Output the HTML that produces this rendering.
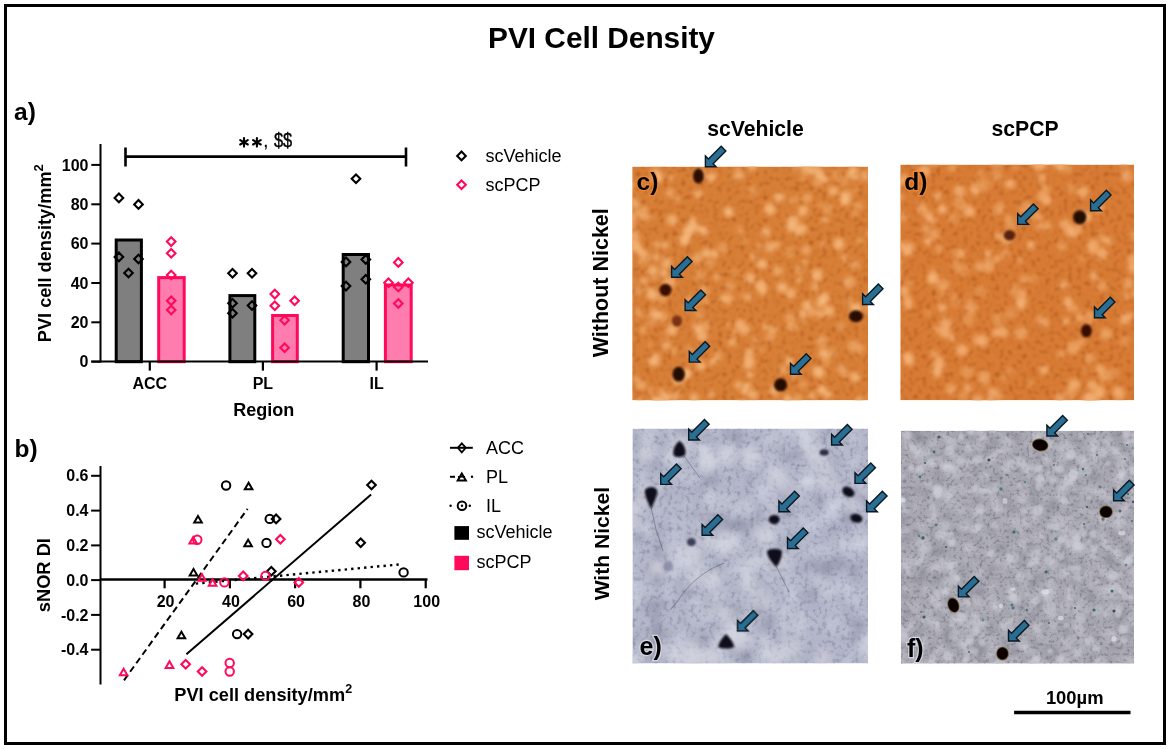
<!DOCTYPE html>
<html><head><meta charset="utf-8"><style>
html,body{margin:0;padding:0;background:#fff;font-family:"Liberation Sans",sans-serif;}
svg text{font-family:"Liberation Sans",sans-serif;}
svg{display:block;will-change:transform;}
</style></head><body>
<svg width="1170" height="749" viewBox="0 0 1170 749" font-family="Liberation Sans, sans-serif">
<rect width="1170" height="749" fill="#fff"/>
<rect x="5.5" y="5.5" width="1159" height="738" fill="none" stroke="#000" stroke-width="3"/>
<text x="601.5" y="47.5" font-size="29.8" font-weight="bold" text-anchor="middle">PVI Cell Density</text>
<text x="14" y="120.3" font-size="24.5" font-weight="bold">a)</text>
<g stroke="#000" stroke-width="2" fill="none">
<line x1="100.5" y1="144" x2="100.5" y2="362.5"/>
<line x1="91.3" y1="361.7" x2="100.5" y2="361.7"/>
<line x1="91.3" y1="322.3" x2="100.5" y2="322.3"/>
<line x1="91.3" y1="283.0" x2="100.5" y2="283.0"/>
<line x1="91.3" y1="243.6" x2="100.5" y2="243.6"/>
<line x1="91.3" y1="204.3" x2="100.5" y2="204.3"/>
<line x1="91.3" y1="164.9" x2="100.5" y2="164.9"/>
</g>
<g font-size="16" font-weight="bold" text-anchor="end">
<text x="88.5" y="367.3">0</text>
<text x="88.5" y="327.9">20</text>
<text x="88.5" y="288.6">40</text>
<text x="88.5" y="249.2">60</text>
<text x="88.5" y="209.9">80</text>
<text x="88.5" y="170.5">100</text>
</g>
<rect x="116.2" y="240.0" width="25.2" height="121.7" fill="#7f7f7f" stroke="#000" stroke-width="3"/>
<rect x="158.7" y="277.6" width="25.5" height="84.1" fill="#ff7cae" stroke="#ff0a5a" stroke-width="3"/>
<rect x="229.9" y="295.6" width="24.9" height="66.1" fill="#7f7f7f" stroke="#000" stroke-width="3"/>
<rect x="272.6" y="315.5" width="24.7" height="46.2" fill="#ff7cae" stroke="#ff0a5a" stroke-width="3"/>
<rect x="343.2" y="254.5" width="25.3" height="107.2" fill="#7f7f7f" stroke="#000" stroke-width="3"/>
<rect x="385.4" y="285.0" width="25.8" height="76.7" fill="#ff7cae" stroke="#ff0a5a" stroke-width="3"/>
<g stroke="#000" fill="none">
<line x1="91.3" y1="361.6" x2="428" y2="361.6" stroke-width="2"/>
<line x1="149.8" y1="361.7" x2="149.8" y2="370.6" stroke-width="2.2"/>
<line x1="262.9" y1="361.7" x2="262.9" y2="370.6" stroke-width="2.2"/>
<line x1="376.6" y1="361.7" x2="376.6" y2="370.6" stroke-width="2.2"/>
</g>
<g font-size="16" font-weight="bold" text-anchor="middle">
<text x="149.8" y="388.8">ACC</text>
<text x="262.9" y="388.8">PL</text>
<text x="376.6" y="388.8">IL</text>
</g>
<text x="263.8" y="415.7" font-size="18" font-weight="bold" text-anchor="middle">Region</text>
<text transform="translate(50.7 253.2) rotate(-90)" font-size="18.2" font-weight="bold" text-anchor="middle">PVI cell density/mm<tspan font-size="13" dy="-8.2">2</tspan></text>
<path d="M118.9 193.6L123.2 197.9L118.9 202.2L114.6 197.9Z" fill="none" stroke="#000" stroke-width="2.1"/>
<path d="M138.5 200.1L142.8 204.4L138.5 208.7L134.2 204.4Z" fill="none" stroke="#000" stroke-width="2.1"/>
<path d="M118.9 252.6L123.2 256.9L118.9 261.2L114.6 256.9Z" fill="none" stroke="#000" stroke-width="2.1"/>
<path d="M138.5 254.7L142.8 259.0L138.5 263.3L134.2 259.0Z" fill="none" stroke="#000" stroke-width="2.1"/>
<path d="M128.5 268.7L132.8 273.0L128.5 277.3L124.2 273.0Z" fill="none" stroke="#000" stroke-width="2.1"/>
<path d="M232.5 268.9L236.8 273.2L232.5 277.5L228.2 273.2Z" fill="none" stroke="#000" stroke-width="2.1"/>
<path d="M252.0 268.9L256.3 273.2L252.0 277.5L247.7 273.2Z" fill="none" stroke="#000" stroke-width="2.1"/>
<path d="M232.5 299.0L236.8 303.3L232.5 307.6L228.2 303.3Z" fill="none" stroke="#000" stroke-width="2.1"/>
<path d="M252.0 301.2L256.3 305.5L252.0 309.8L247.7 305.5Z" fill="none" stroke="#000" stroke-width="2.1"/>
<path d="M232.5 308.9L236.8 313.2L232.5 317.5L228.2 313.2Z" fill="none" stroke="#000" stroke-width="2.1"/>
<path d="M356.0 174.4L360.3 178.7L356.0 183.0L351.7 178.7Z" fill="none" stroke="#000" stroke-width="2.1"/>
<path d="M346.0 257.6L350.3 261.9L346.0 266.2L341.7 261.9Z" fill="none" stroke="#000" stroke-width="2.1"/>
<path d="M365.8 255.2L370.1 259.5L365.8 263.8L361.5 259.5Z" fill="none" stroke="#000" stroke-width="2.1"/>
<path d="M365.8 275.0L370.1 279.3L365.8 283.6L361.5 279.3Z" fill="none" stroke="#000" stroke-width="2.1"/>
<path d="M346.0 281.8L350.3 286.1L346.0 290.4L341.7 286.1Z" fill="none" stroke="#000" stroke-width="2.1"/>
<path d="M171.2 237.3L175.5 241.6L171.2 245.9L166.9 241.6Z" fill="none" stroke="#ff0a5a" stroke-width="2.1"/>
<path d="M171.2 249.0L175.5 253.3L171.2 257.6L166.9 253.3Z" fill="none" stroke="#ff0a5a" stroke-width="2.1"/>
<path d="M171.2 270.7L175.5 275.0L171.2 279.3L166.9 275.0Z" fill="none" stroke="#ff0a5a" stroke-width="2.1"/>
<path d="M171.2 296.4L175.5 300.7L171.2 305.0L166.9 300.7Z" fill="none" stroke="#ff0a5a" stroke-width="2.1"/>
<path d="M171.2 305.7L175.5 310.0L171.2 314.3L166.9 310.0Z" fill="none" stroke="#ff0a5a" stroke-width="2.1"/>
<path d="M274.8 289.8L279.1 294.1L274.8 298.4L270.5 294.1Z" fill="none" stroke="#ff0a5a" stroke-width="2.1"/>
<path d="M274.8 301.5L279.1 305.8L274.8 310.1L270.5 305.8Z" fill="none" stroke="#ff0a5a" stroke-width="2.1"/>
<path d="M294.6 296.5L298.9 300.8L294.6 305.1L290.3 300.8Z" fill="none" stroke="#ff0a5a" stroke-width="2.1"/>
<path d="M284.6 315.9L288.9 320.2L284.6 324.5L280.3 320.2Z" fill="none" stroke="#ff0a5a" stroke-width="2.1"/>
<path d="M284.6 343.5L288.9 347.8L284.6 352.1L280.3 347.8Z" fill="none" stroke="#ff0a5a" stroke-width="2.1"/>
<path d="M398.3 258.1L402.6 262.4L398.3 266.7L394.0 262.4Z" fill="none" stroke="#ff0a5a" stroke-width="2.1"/>
<path d="M388.5 278.4L392.8 282.7L388.5 287.0L384.2 282.7Z" fill="none" stroke="#ff0a5a" stroke-width="2.1"/>
<path d="M408.4 278.4L412.7 282.7L408.4 287.0L404.1 282.7Z" fill="none" stroke="#ff0a5a" stroke-width="2.1"/>
<path d="M398.3 282.7L402.6 287.0L398.3 291.3L394.0 287.0Z" fill="none" stroke="#ff0a5a" stroke-width="2.1"/>
<path d="M398.3 299.2L402.6 303.5L398.3 307.8L394.0 303.5Z" fill="none" stroke="#ff0a5a" stroke-width="2.1"/>
<path d="M125.5 147.5V166.5M125.5 156.6H406M406 147.5V166.5" stroke="#000" stroke-width="2.6" fill="none"/>
<g stroke="#000" stroke-width="2.1" stroke-linecap="round"><line x1="244.0" y1="138.0" x2="244.0" y2="146.60000000000002"/><line x1="240.2" y1="140.10000000000002" x2="247.8" y2="144.5"/><line x1="240.2" y1="144.5" x2="247.8" y2="140.10000000000002"/></g>
<g stroke="#000" stroke-width="2.1" stroke-linecap="round"><line x1="256.9" y1="138.0" x2="256.9" y2="146.60000000000002"/><line x1="253.09999999999997" y1="140.10000000000002" x2="260.7" y2="144.5"/><line x1="253.09999999999997" y1="144.5" x2="260.7" y2="140.10000000000002"/></g>
<text x="262.9" y="146.8" font-size="20">,</text>
<text transform="translate(273.9 147) scale(0.815 1)" font-size="20.2" stroke="#000" stroke-width="0.4">$$</text>
<path d="M461.5 151.6L465.8 155.9L461.5 160.2L457.2 155.9Z" fill="none" stroke="#000" stroke-width="2.1"/>
<path d="M461.5 180.4L465.8 184.7L461.5 189.0L457.2 184.7Z" fill="none" stroke="#ff0a5a" stroke-width="2.1"/>
<text x="485.5" y="162" font-size="18">scVehicle</text>
<text x="485.5" y="190.6" font-size="18">scPCP</text>
<text x="14.5" y="456.7" font-size="24.5" font-weight="bold">b)</text>
<g stroke="#000" stroke-width="2" fill="none">
<line x1="100.5" y1="466" x2="100.5" y2="684.5"/>
<line x1="91.1" y1="475.8" x2="100.5" y2="475.8"/>
<line x1="91.1" y1="510.6" x2="100.5" y2="510.6"/>
<line x1="91.1" y1="545.4" x2="100.5" y2="545.4"/>
<line x1="91.1" y1="580.1" x2="100.5" y2="580.1"/>
<line x1="91.1" y1="614.9" x2="100.5" y2="614.9"/>
<line x1="91.1" y1="649.7" x2="100.5" y2="649.7"/>
</g>
<g font-size="16" font-weight="bold" text-anchor="end">
<text x="88.5" y="481.4">0.6</text>
<text x="88.5" y="516.2">0.4</text>
<text x="88.5" y="551.0">0.2</text>
<text x="88.5" y="585.7">0.0</text>
<text x="88.5" y="620.5">-0.2</text>
<text x="88.5" y="655.3">-0.4</text>
</g>
<g stroke="#000" fill="none">
<line x1="100.5" y1="579.5" x2="427.5" y2="579.5" stroke-width="2.5"/>
<line x1="164.6" y1="579.5" x2="164.6" y2="588.3" stroke-width="2.2"/>
<line x1="229.9" y1="579.5" x2="229.9" y2="588.3" stroke-width="2.2"/>
<line x1="295.1" y1="579.5" x2="295.1" y2="588.3" stroke-width="2.2"/>
<line x1="360.4" y1="579.5" x2="360.4" y2="588.3" stroke-width="2.2"/>
<line x1="425.7" y1="579.5" x2="425.7" y2="588.3" stroke-width="2.2"/>
</g>
<g font-size="16" font-weight="bold" text-anchor="middle">
<text x="165.6" y="607">20</text>
<text x="230.9" y="607">40</text>
<text x="296.1" y="607">60</text>
<text x="361.4" y="607">80</text>
<text x="426.7" y="607">100</text>
</g>
<text x="174.3" y="701" font-size="18.2" font-weight="bold">PVI cell density/mm<tspan font-size="12.5" dy="-8.2">2</tspan></text>
<text transform="translate(49.8 575.15) rotate(-90)" font-size="18.3" font-weight="bold" text-anchor="middle">sNOR DI</text>
<line x1="124" y1="680.3" x2="247.6" y2="508.8" stroke="#000" stroke-width="2" stroke-dasharray="6.5 4"/>
<line x1="186.4" y1="654.2" x2="371.1" y2="494.6" stroke="#000" stroke-width="2"/>
<line x1="195.8" y1="583.6" x2="398.7" y2="564.5" stroke="#000" stroke-width="2.4" stroke-dasharray="2.4 4.1"/>
<circle cx="226.1" cy="485.5" r="4.2" fill="none" stroke="#000" stroke-width="2"/>
<path d="M248.6 482.7L252.4 489.3L244.8 489.3Z" fill="none" stroke="#000" stroke-width="2"/>
<path d="M371.5 480.7L375.8 485.0L371.5 489.3L367.2 485.0Z" fill="none" stroke="#000" stroke-width="2.1"/>
<path d="M198.0 515.9L201.8 522.5L194.2 522.5Z" fill="none" stroke="#000" stroke-width="2"/>
<circle cx="269.7" cy="518.9" r="4.2" fill="none" stroke="#000" stroke-width="2"/>
<path d="M276.1 514.6L280.4 518.9L276.1 523.2L271.8 518.9Z" fill="none" stroke="#000" stroke-width="2.1"/>
<path d="M248.1 539.7L251.9 546.3L244.3 546.3Z" fill="none" stroke="#000" stroke-width="2"/>
<circle cx="266.5" cy="542.9" r="4.2" fill="none" stroke="#000" stroke-width="2"/>
<path d="M360.7 538.4L365.0 542.7L360.7 547.0L356.4 542.7Z" fill="none" stroke="#000" stroke-width="2.1"/>
<path d="M193.5 568.9L197.3 575.5L189.7 575.5Z" fill="none" stroke="#000" stroke-width="2"/>
<path d="M271.3 566.9L275.6 571.2L271.3 575.5L267.0 571.2Z" fill="none" stroke="#000" stroke-width="2.1"/>
<circle cx="403.6" cy="572.4" r="4.2" fill="none" stroke="#000" stroke-width="2"/>
<path d="M181.4 631.7L185.2 638.3L177.6 638.3Z" fill="none" stroke="#000" stroke-width="2"/>
<circle cx="237.1" cy="634.1" r="4.2" fill="none" stroke="#000" stroke-width="2"/>
<path d="M248.1 629.8L252.4 634.1L248.1 638.4L243.8 634.1Z" fill="none" stroke="#000" stroke-width="2.1"/>
<path d="M193.2 536.9L197.0 543.5L189.4 543.5Z" fill="none" stroke="#ff0a5a" stroke-width="2"/>
<circle cx="197.3" cy="539.7" r="4.2" fill="none" stroke="#ff0a5a" stroke-width="2"/>
<path d="M280.4 534.9L284.7 539.2L280.4 543.5L276.1 539.2Z" fill="none" stroke="#ff0a5a" stroke-width="2.1"/>
<path d="M202.0 574.2L205.8 580.8L198.2 580.8Z" fill="none" stroke="#ff0a5a" stroke-width="2"/>
<path d="M212.6 579.2L216.4 585.8L208.8 585.8Z" fill="none" stroke="#ff0a5a" stroke-width="2"/>
<circle cx="224.4" cy="582.4" r="4.2" fill="none" stroke="#ff0a5a" stroke-width="2"/>
<path d="M243.2 571.6L247.5 575.9L243.2 580.2L238.9 575.9Z" fill="none" stroke="#ff0a5a" stroke-width="2.1"/>
<circle cx="265.5" cy="575.9" r="4.2" fill="none" stroke="#ff0a5a" stroke-width="2"/>
<path d="M298.8 578.1L303.1 582.4L298.8 586.7L294.5 582.4Z" fill="none" stroke="#ff0a5a" stroke-width="2.1"/>
<path d="M123.6 668.7L127.4 675.3L119.8 675.3Z" fill="none" stroke="#ff0a5a" stroke-width="2"/>
<path d="M169.5 661.3L173.3 667.9L165.7 667.9Z" fill="none" stroke="#ff0a5a" stroke-width="2"/>
<path d="M185.7 659.9L190.0 664.2L185.7 668.5L181.4 664.2Z" fill="none" stroke="#ff0a5a" stroke-width="2.1"/>
<path d="M202.1 667.2L206.4 671.5L202.1 675.8L197.8 671.5Z" fill="none" stroke="#ff0a5a" stroke-width="2.1"/>
<circle cx="229.7" cy="663.0" r="4.2" fill="none" stroke="#ff0a5a" stroke-width="2"/>
<circle cx="229.7" cy="671.5" r="4.2" fill="none" stroke="#ff0a5a" stroke-width="2"/>
<line x1="450" y1="447.8" x2="472.8" y2="447.8" stroke="#000" stroke-width="2"/>
<path d="M461.8 443.3L465.8 447.8L461.8 452.3L457.8 447.8Z" fill="none" stroke="#000" stroke-width="1.8"/>
<line x1="450" y1="476.8" x2="455" y2="476.8" stroke="#000" stroke-width="2"/>
<line x1="458" y1="476.8" x2="465" y2="476.8" stroke="#000" stroke-width="1.6"/>
<path d="M461.8 473.4L465.9 480.6L457.7 480.6Z" fill="none" stroke="#000" stroke-width="2"/>
<circle cx="472" cy="476.8" r="1.2" fill="#000"/>
<circle cx="450.6" cy="505.7" r="1.2" fill="#000"/><circle cx="469.8" cy="505.7" r="1.2" fill="#000"/>
<circle cx="462.0" cy="505.7" r="4.3" fill="none" stroke="#000" stroke-width="2"/>
<circle cx="462" cy="505.7" r="1.2" fill="#000"/>
<g font-size="18">
<text x="486" y="454.4">ACC</text><text x="486" y="482.7">PL</text><text x="486" y="512.1">IL</text>
<text x="476.5" y="538.2">scVehicle</text><text x="476.5" y="568.2">scPCP</text>
</g>
<rect x="454.4" y="526.1" width="14.6" height="13.7" fill="#000"/>
<rect x="454.4" y="555.8" width="14.6" height="14.4" fill="#ff0a5a"/>
<text x="755.5" y="135.7" font-size="21.2" font-weight="bold" text-anchor="middle">scVehicle</text>
<text x="1025.1" y="135.6" font-size="21.2" font-weight="bold" text-anchor="middle">scPCP</text>
<text transform="translate(608.4 282.75) rotate(-90)" font-size="21.5" font-weight="bold" text-anchor="middle">Without Nickel</text>
<text transform="translate(608.9 543.6) rotate(-90)" font-size="21.1" font-weight="bold" text-anchor="middle">With Nickel</text>
<defs>
<filter id="gc" x="0" y="0" width="100%" height="100%" color-interpolation-filters="sRGB"><feTurbulence type="fractalNoise" baseFrequency="0.22" numOctaves="3" seed="1"/><feColorMatrix type="matrix" values="0 0 0 0 0.62  0 0 0 0 0.27  0 0 0 0 0.06  -1.7 0 0 0 0.85"/><feGaussianBlur stdDeviation="0.8"/></filter>
<filter id="gd" x="0" y="0" width="100%" height="100%" color-interpolation-filters="sRGB"><feTurbulence type="fractalNoise" baseFrequency="0.22" numOctaves="3" seed="9"/><feColorMatrix type="matrix" values="0 0 0 0 0.62  0 0 0 0 0.27  0 0 0 0 0.06  -1.7 0 0 0 0.85"/><feGaussianBlur stdDeviation="0.8"/></filter>
<filter id="ge" x="0" y="0" width="100%" height="100%" color-interpolation-filters="sRGB"><feTurbulence type="fractalNoise" baseFrequency="0.22" numOctaves="3" seed="3"/><feColorMatrix type="matrix" values="0 0 0 0 0.3  0 0 0 0 0.31  0 0 0 0 0.45  -1.0 0 0 0 0.5"/><feGaussianBlur stdDeviation="0.6"/></filter>
<filter id="ge2" x="0" y="0" width="100%" height="100%" color-interpolation-filters="sRGB"><feTurbulence type="fractalNoise" baseFrequency="0.045" numOctaves="3" seed="13"/><feColorMatrix type="matrix" values="0 0 0 0 0.52  0 0 0 0 0.53  0 0 0 0 0.62  -2.0 0 0 0 0.95"/><feGaussianBlur stdDeviation="2.0"/></filter>
<filter id="ge3" x="0" y="0" width="100%" height="100%" color-interpolation-filters="sRGB"><feTurbulence type="fractalNoise" baseFrequency="0.045" numOctaves="3" seed="13"/><feColorMatrix type="matrix" values="0 0 0 0 0.86  0 0 0 0 0.87  0 0 0 0 0.92  2.2 0 0 0 -1.15"/><feGaussianBlur stdDeviation="2.0"/></filter>
<filter id="gf" x="0" y="0" width="100%" height="100%" color-interpolation-filters="sRGB"><feTurbulence type="fractalNoise" baseFrequency="0.3" numOctaves="3" seed="5"/><feColorMatrix type="matrix" values="0 0 0 0 0.3  0 0 0 0 0.3  0 0 0 0 0.36  -1.4 0 0 0 0.68"/><feGaussianBlur stdDeviation="0.5"/></filter>
<filter id="gf2" x="0" y="0" width="100%" height="100%" color-interpolation-filters="sRGB"><feTurbulence type="fractalNoise" baseFrequency="0.07" numOctaves="3" seed="21"/><feColorMatrix type="matrix" values="0 0 0 0 0.5  0 0 0 0 0.5  0 0 0 0 0.56  -1.8 0 0 0 0.85"/><feGaussianBlur stdDeviation="1.2"/></filter>
<filter id="gf3" x="0" y="0" width="100%" height="100%" color-interpolation-filters="sRGB"><feTurbulence type="fractalNoise" baseFrequency="0.07" numOctaves="3" seed="21"/><feColorMatrix type="matrix" values="0 0 0 0 0.86  0 0 0 0 0.86  0 0 0 0 0.9  2.0 0 0 0 -1.05"/><feGaussianBlur stdDeviation="1.2"/></filter>
<filter id="b1" x="-50%" y="-50%" width="200%" height="200%"><feGaussianBlur stdDeviation="1.2"/></filter>
<filter id="b2" x="-50%" y="-50%" width="200%" height="200%"><feGaussianBlur stdDeviation="2"/></filter>
<filter id="b4" x="-50%" y="-50%" width="200%" height="200%"><feGaussianBlur stdDeviation="4"/></filter>
<filter id="bc" x="-50%" y="-50%" width="200%" height="200%"><feGaussianBlur stdDeviation="1.0"/></filter>
<filter id="bs" x="-50%" y="-50%" width="200%" height="200%"><feGaussianBlur stdDeviation="0.6"/></filter>
<clipPath id="cc"><rect x="632.4" y="166.8" width="235.6" height="233.3"/></clipPath>
<clipPath id="cd"><rect x="900.5" y="164.8" width="233.5" height="235.3"/></clipPath>
<clipPath id="ce"><rect x="632.7" y="428.8" width="235.3" height="234.4"/></clipPath>
<clipPath id="cf"><rect x="901" y="430.9" width="233.0" height="232.5"/></clipPath>
</defs>
<rect x="632.4" y="166.8" width="235.6" height="233.3" fill="#d98038"/>
<g clip-path="url(#cc)">
<rect x="632.4" y="166.8" width="235.6" height="233.3" fill="#000" filter="url(#gc)"/>
<g fill="#f7bb7f" filter="url(#b2)">
<circle cx="770" cy="209" r="5.9" opacity="0.81"/>
<circle cx="742" cy="323" r="3.3" opacity="0.46"/>
<circle cx="698" cy="330" r="3.2" opacity="0.84"/>
<circle cx="645" cy="209" r="2.8" opacity="0.73"/>
<circle cx="717" cy="277" r="3.6" opacity="0.67"/>
<circle cx="727" cy="212" r="4.0" opacity="0.50"/>
<circle cx="655" cy="362" r="4.9" opacity="0.68"/>
<circle cx="844" cy="258" r="3.8" opacity="0.56"/>
<circle cx="727" cy="325" r="2.5" opacity="0.58"/>
<circle cx="759" cy="246" r="2.6" opacity="0.70"/>
<circle cx="630" cy="299" r="3.0" opacity="0.37"/>
<circle cx="672" cy="178" r="3.0" opacity="0.69"/>
<circle cx="806" cy="250" r="4.8" opacity="0.59"/>
<circle cx="750" cy="375" r="3.6" opacity="0.78"/>
<circle cx="797" cy="328" r="2.5" opacity="0.39"/>
<circle cx="635" cy="246" r="5.8" opacity="0.79"/>
<circle cx="833" cy="191" r="5.0" opacity="0.74"/>
<circle cx="826" cy="355" r="3.0" opacity="0.44"/>
<circle cx="822" cy="341" r="5.6" opacity="0.57"/>
<circle cx="846" cy="196" r="5.8" opacity="0.79"/>
<circle cx="710" cy="178" r="4.4" opacity="0.69"/>
<circle cx="713" cy="176" r="3.5" opacity="0.76"/>
<circle cx="650" cy="390" r="3.4" opacity="0.45"/>
<circle cx="655" cy="400" r="5.7" opacity="0.51"/>
<circle cx="651" cy="321" r="5.6" opacity="0.36"/>
<circle cx="783" cy="370" r="4.1" opacity="0.63"/>
<circle cx="825" cy="220" r="3.5" opacity="0.68"/>
<circle cx="763" cy="292" r="3.7" opacity="0.82"/>
<circle cx="698" cy="327" r="5.6" opacity="0.55"/>
<circle cx="641" cy="215" r="2.7" opacity="0.42"/>
<circle cx="657" cy="245" r="3.8" opacity="0.57"/>
<circle cx="791" cy="326" r="4.9" opacity="0.53"/>
<circle cx="790" cy="296" r="2.9" opacity="0.62"/>
<circle cx="706" cy="326" r="5.1" opacity="0.47"/>
<circle cx="734" cy="272" r="3.5" opacity="0.37"/>
<circle cx="640" cy="403" r="5.1" opacity="0.57"/>
<circle cx="791" cy="227" r="5.0" opacity="0.83"/>
<circle cx="817" cy="275" r="5.9" opacity="0.81"/>
<circle cx="642" cy="262" r="4.1" opacity="0.49"/>
<circle cx="779" cy="197" r="5.1" opacity="0.78"/>
<circle cx="643" cy="330" r="3.4" opacity="0.67"/>
<circle cx="797" cy="399" r="5.3" opacity="0.52"/>
<circle cx="807" cy="198" r="5.0" opacity="0.56"/>
<circle cx="693" cy="220" r="3.3" opacity="0.75"/>
<circle cx="651" cy="218" r="3.2" opacity="0.43"/>
<circle cx="807" cy="305" r="4.8" opacity="0.80"/>
<circle cx="738" cy="171" r="3.2" opacity="0.61"/>
<circle cx="803" cy="385" r="4.3" opacity="0.46"/>
<circle cx="773" cy="389" r="3.7" opacity="0.82"/>
<circle cx="849" cy="302" r="4.2" opacity="0.41"/>
<circle cx="655" cy="172" r="4.6" opacity="0.71"/>
<circle cx="871" cy="308" r="6.0" opacity="0.55"/>
<circle cx="660" cy="176" r="3.5" opacity="0.62"/>
<circle cx="870" cy="234" r="3.3" opacity="0.71"/>
<circle cx="723" cy="298" r="3.0" opacity="0.78"/>
<circle cx="853" cy="346" r="5.8" opacity="0.52"/>
<circle cx="635" cy="236" r="5.6" opacity="0.58"/>
<circle cx="677" cy="199" r="3.1" opacity="0.57"/>
<circle cx="855" cy="377" r="5.2" opacity="0.73"/>
<circle cx="674" cy="351" r="3.3" opacity="0.61"/>
<circle cx="636" cy="379" r="2.9" opacity="0.65"/>
<circle cx="790" cy="318" r="4.9" opacity="0.53"/>
<circle cx="822" cy="390" r="4.7" opacity="0.84"/>
<circle cx="836" cy="175" r="4.9" opacity="0.40"/>
<circle cx="790" cy="252" r="5.5" opacity="0.37"/>
<circle cx="860" cy="172" r="2.7" opacity="0.35"/>
<circle cx="658" cy="402" r="5.4" opacity="0.81"/>
<circle cx="673" cy="329" r="5.3" opacity="0.71"/>
<circle cx="694" cy="398" r="5.0" opacity="0.69"/>
<circle cx="697" cy="258" r="5.2" opacity="0.61"/>
<circle cx="747" cy="386" r="4.0" opacity="0.78"/>
<circle cx="639" cy="291" r="5.0" opacity="0.36"/>
<circle cx="798" cy="231" r="4.7" opacity="0.66"/>
<circle cx="661" cy="391" r="3.3" opacity="0.42"/>
<circle cx="736" cy="177" r="2.9" opacity="0.73"/>
<circle cx="651" cy="293" r="5.6" opacity="0.58"/>
<circle cx="827" cy="364" r="3.1" opacity="0.39"/>
<circle cx="820" cy="373" r="5.5" opacity="0.71"/>
<circle cx="753" cy="395" r="5.1" opacity="0.73"/>
<circle cx="851" cy="175" r="5.1" opacity="0.64"/>
<circle cx="631" cy="224" r="5.0" opacity="0.61"/>
<circle cx="766" cy="232" r="4.5" opacity="0.79"/>
<circle cx="868" cy="296" r="5.1" opacity="0.39"/>
<circle cx="662" cy="298" r="5.4" opacity="0.41"/>
<circle cx="664" cy="283" r="3.6" opacity="0.42"/>
<circle cx="666" cy="265" r="5.3" opacity="0.44"/>
<circle cx="825" cy="180" r="3.4" opacity="0.68"/>
<circle cx="629" cy="240" r="3.0" opacity="0.47"/>
<circle cx="845" cy="201" r="5.0" opacity="0.81"/>
<circle cx="688" cy="372" r="3.6" opacity="0.74"/>
<circle cx="770" cy="247" r="5.6" opacity="0.70"/>
<circle cx="706" cy="301" r="3.5" opacity="0.49"/>
<circle cx="858" cy="399" r="3.1" opacity="0.81"/>
<circle cx="803" cy="165" r="2.9" opacity="0.57"/>
<circle cx="845" cy="374" r="3.4" opacity="0.57"/>
<circle cx="855" cy="213" r="2.9" opacity="0.56"/>
<circle cx="795" cy="374" r="5.6" opacity="0.36"/>
<circle cx="670" cy="193" r="4.6" opacity="0.55"/>
<circle cx="854" cy="312" r="4.7" opacity="0.69"/>
<circle cx="678" cy="380" r="5.5" opacity="0.76"/>
<circle cx="820" cy="204" r="2.7" opacity="0.53"/>
<circle cx="803" cy="211" r="5.5" opacity="0.78"/>
<circle cx="799" cy="280" r="3.0" opacity="0.75"/>
<circle cx="670" cy="282" r="5.2" opacity="0.67"/>
<circle cx="685" cy="376" r="3.6" opacity="0.56"/>
<circle cx="735" cy="332" r="2.6" opacity="0.67"/>
<circle cx="747" cy="357" r="3.8" opacity="0.64"/>
<circle cx="865" cy="176" r="5.3" opacity="0.58"/>
<circle cx="701" cy="229" r="3.3" opacity="0.77"/>
<circle cx="677" cy="396" r="4.3" opacity="0.49"/>
<circle cx="820" cy="303" r="5.6" opacity="0.42"/>
<circle cx="797" cy="169" r="3.1" opacity="0.56"/>
<circle cx="704" cy="231" r="4.5" opacity="0.72"/>
<circle cx="730" cy="286" r="5.2" opacity="0.46"/>
<circle cx="872" cy="168" r="3.8" opacity="0.76"/>
<circle cx="685" cy="242" r="3.1" opacity="0.84"/>
<circle cx="843" cy="182" r="4.4" opacity="0.43"/>
<circle cx="632" cy="216" r="5.0" opacity="0.61"/>
<circle cx="698" cy="303" r="2.8" opacity="0.52"/>
<circle cx="652" cy="362" r="3.8" opacity="0.71"/>
<circle cx="710" cy="263" r="4.5" opacity="0.48"/>
<circle cx="762" cy="350" r="2.8" opacity="0.45"/>
<circle cx="632" cy="281" r="2.9" opacity="0.61"/>
<circle cx="667" cy="290" r="3.5" opacity="0.72"/>
<circle cx="828" cy="395" r="4.1" opacity="0.79"/>
<circle cx="839" cy="244" r="5.9" opacity="0.83"/>
<circle cx="666" cy="345" r="4.9" opacity="0.66"/>
<circle cx="802" cy="229" r="5.4" opacity="0.71"/>
<circle cx="672" cy="397" r="5.1" opacity="0.38"/>
<circle cx="635" cy="203" r="4.8" opacity="0.71"/>
<circle cx="856" cy="377" r="3.2" opacity="0.45"/>
<circle cx="648" cy="257" r="4.0" opacity="0.54"/>
<circle cx="829" cy="311" r="5.3" opacity="0.78"/>
<circle cx="815" cy="287" r="3.9" opacity="0.62"/>
<circle cx="740" cy="325" r="5.5" opacity="0.69"/>
<circle cx="690" cy="299" r="4.1" opacity="0.41"/>
<circle cx="653" cy="271" r="5.8" opacity="0.70"/>
<circle cx="641" cy="385" r="5.0" opacity="0.65"/>
<circle cx="629" cy="237" r="3.7" opacity="0.59"/>
<circle cx="658" cy="315" r="4.6" opacity="0.67"/>
<circle cx="749" cy="297" r="2.9" opacity="0.76"/>
<circle cx="841" cy="369" r="5.2" opacity="0.47"/>
<circle cx="700" cy="174" r="5.2" opacity="0.78"/>
<circle cx="857" cy="308" r="5.3" opacity="0.77"/>
<circle cx="657" cy="178" r="5.6" opacity="0.84"/>
<circle cx="803" cy="313" r="3.9" opacity="0.78"/>
<circle cx="697" cy="175" r="5.3" opacity="0.38"/>
<circle cx="803" cy="320" r="2.9" opacity="0.57"/>
<circle cx="694" cy="358" r="5.2" opacity="0.51"/>
<circle cx="665" cy="245" r="4.0" opacity="0.65"/>
<circle cx="860" cy="240" r="3.0" opacity="0.66"/>
<circle cx="732" cy="342" r="4.8" opacity="0.62"/>
<circle cx="828" cy="209" r="5.2" opacity="0.44"/>
<circle cx="745" cy="297" r="4.4" opacity="0.41"/>
<circle cx="740" cy="230" r="3.5" opacity="0.56"/>
<circle cx="729" cy="212" r="4.9" opacity="0.82"/>
<circle cx="860" cy="206" r="3.3" opacity="0.55"/>
<circle cx="773" cy="330" r="4.6" opacity="0.60"/>
<circle cx="873" cy="396" r="5.3" opacity="0.48"/>
<circle cx="816" cy="171" r="5.8" opacity="0.70"/>
<circle cx="855" cy="265" r="5.0" opacity="0.48"/>
<circle cx="855" cy="205" r="2.5" opacity="0.49"/>
<circle cx="791" cy="293" r="5.3" opacity="0.69"/>
<circle cx="819" cy="391" r="2.7" opacity="0.40"/>
<circle cx="698" cy="194" r="4.4" opacity="0.71"/>
<circle cx="672" cy="283" r="3.4" opacity="0.36"/>
<circle cx="692" cy="226" r="4.9" opacity="0.83"/>
<circle cx="644" cy="281" r="4.1" opacity="0.66"/>
<circle cx="664" cy="394" r="3.5" opacity="0.64"/>
<circle cx="728" cy="299" r="5.6" opacity="0.66"/>
<circle cx="711" cy="394" r="3.1" opacity="0.83"/>
<circle cx="793" cy="221" r="6.0" opacity="0.78"/>
<circle cx="752" cy="359" r="2.8" opacity="0.49"/>
<circle cx="745" cy="391" r="3.8" opacity="0.85"/>
<circle cx="770" cy="337" r="5.2" opacity="0.42"/>
<circle cx="853" cy="306" r="2.9" opacity="0.43"/>
<circle cx="824" cy="298" r="5.7" opacity="0.78"/>
<circle cx="762" cy="264" r="5.2" opacity="0.84"/>
<circle cx="703" cy="288" r="2.9" opacity="0.37"/>
<circle cx="642" cy="253" r="4.7" opacity="0.78"/>
<circle cx="812" cy="396" r="3.4" opacity="0.78"/>
<circle cx="706" cy="253" r="4.4" opacity="0.85"/>
<circle cx="741" cy="176" r="3.8" opacity="0.63"/>
<circle cx="795" cy="199" r="3.5" opacity="0.43"/>
<circle cx="753" cy="257" r="3.6" opacity="0.60"/>
<circle cx="812" cy="312" r="5.1" opacity="0.55"/>
<circle cx="855" cy="190" r="2.8" opacity="0.40"/>
<circle cx="745" cy="241" r="3.2" opacity="0.35"/>
<circle cx="821" cy="176" r="4.7" opacity="0.83"/>
<circle cx="689" cy="305" r="5.6" opacity="0.57"/>
<circle cx="853" cy="170" r="4.5" opacity="0.74"/>
<circle cx="749" cy="364" r="5.9" opacity="0.77"/>
<circle cx="745" cy="330" r="5.5" opacity="0.66"/>
<circle cx="639" cy="212" r="4.6" opacity="0.41"/>
<circle cx="666" cy="398" r="4.3" opacity="0.84"/>
<circle cx="833" cy="352" r="4.0" opacity="0.47"/>
<circle cx="644" cy="216" r="4.2" opacity="0.65"/>
<circle cx="664" cy="273" r="3.8" opacity="0.79"/>
<circle cx="701" cy="366" r="4.8" opacity="0.82"/>
<circle cx="696" cy="228" r="4.2" opacity="0.48"/>
<circle cx="775" cy="394" r="4.4" opacity="0.45"/>
<circle cx="640" cy="315" r="4.1" opacity="0.35"/>
<circle cx="718" cy="356" r="4.7" opacity="0.52"/>
<circle cx="863" cy="401" r="2.6" opacity="0.46"/>
<circle cx="777" cy="245" r="3.2" opacity="0.75"/>
<circle cx="849" cy="282" r="5.9" opacity="0.64"/>
<circle cx="782" cy="287" r="5.3" opacity="0.80"/>
<circle cx="750" cy="278" r="5.3" opacity="0.77"/>
<circle cx="789" cy="201" r="3.0" opacity="0.53"/>
<circle cx="639" cy="248" r="3.8" opacity="0.41"/>
<circle cx="663" cy="317" r="5.6" opacity="0.46"/>
<circle cx="805" cy="262" r="2.5" opacity="0.82"/>
<circle cx="655" cy="279" r="2.6" opacity="0.49"/>
<circle cx="714" cy="254" r="4.3" opacity="0.83"/>
<circle cx="778" cy="271" r="5.4" opacity="0.58"/>
<circle cx="799" cy="270" r="5.1" opacity="0.40"/>
<circle cx="670" cy="332" r="5.1" opacity="0.53"/>
<circle cx="638" cy="311" r="2.9" opacity="0.54"/>
<circle cx="826" cy="357" r="5.4" opacity="0.40"/>
<circle cx="807" cy="169" r="5.9" opacity="0.72"/>
<circle cx="817" cy="371" r="5.4" opacity="0.73"/>
<circle cx="856" cy="178" r="2.8" opacity="0.70"/>
<circle cx="656" cy="357" r="4.0" opacity="0.73"/>
<circle cx="653" cy="296" r="5.0" opacity="0.72"/>
<circle cx="672" cy="220" r="5.5" opacity="0.74"/>
<circle cx="752" cy="166" r="5.0" opacity="0.73"/>
<circle cx="787" cy="399" r="4.7" opacity="0.76"/>
<circle cx="688" cy="232" r="5.9" opacity="0.85"/>
<circle cx="654" cy="313" r="4.9" opacity="0.66"/>
<circle cx="723" cy="248" r="5.7" opacity="0.42"/>
<circle cx="649" cy="344" r="2.6" opacity="0.54"/>
<circle cx="765" cy="327" r="3.4" opacity="0.67"/>
<circle cx="789" cy="361" r="4.2" opacity="0.82"/>
<circle cx="738" cy="385" r="3.9" opacity="0.71"/>
<circle cx="699" cy="314" r="5.1" opacity="0.38"/>
<circle cx="818" cy="182" r="5.3" opacity="0.42"/>
<circle cx="686" cy="238" r="3.4" opacity="0.65"/>
<circle cx="713" cy="362" r="3.8" opacity="0.74"/>
<circle cx="705" cy="291" r="4.6" opacity="0.53"/>
<circle cx="820" cy="314" r="4.4" opacity="0.68"/>
<circle cx="684" cy="240" r="5.6" opacity="0.70"/>
<circle cx="742" cy="405" r="5.8" opacity="0.70"/>
<circle cx="657" cy="257" r="3.9" opacity="0.63"/>
<circle cx="700" cy="275" r="5.6" opacity="0.41"/>
<circle cx="649" cy="291" r="2.6" opacity="0.53"/>
<circle cx="689" cy="349" r="3.1" opacity="0.61"/>
<circle cx="841" cy="326" r="3.9" opacity="0.44"/>
<circle cx="860" cy="349" r="4.9" opacity="0.48"/>
<circle cx="686" cy="374" r="5.4" opacity="0.77"/>
<circle cx="702" cy="336" r="5.4" opacity="0.80"/>
<circle cx="803" cy="178" r="2.7" opacity="0.49"/>
<circle cx="823" cy="244" r="2.7" opacity="0.58"/>
<circle cx="667" cy="262" r="5.0" opacity="0.60"/>
<circle cx="761" cy="286" r="5.9" opacity="0.81"/>
<circle cx="753" cy="191" r="4.9" opacity="0.42"/>
<circle cx="630" cy="185" r="4.0" opacity="0.78"/>
<circle cx="750" cy="352" r="4.4" opacity="0.71"/>
<circle cx="755" cy="340" r="3.7" opacity="0.48"/>
<circle cx="823" cy="353" r="5.3" opacity="0.69"/>
<circle cx="822" cy="302" r="4.8" opacity="0.70"/>
</g>
</g>
<rect x="900.5" y="164.8" width="233.5" height="235.3" fill="#d97d36"/>
<g clip-path="url(#cd)">
<rect x="900.5" y="164.8" width="233.5" height="235.3" fill="#000" filter="url(#gd)"/>
<g fill="#f6b478" filter="url(#b2)">
<circle cx="1082" cy="318" r="4.4" opacity="0.45"/>
<circle cx="1060" cy="398" r="4.5" opacity="0.78"/>
<circle cx="904" cy="289" r="3.7" opacity="0.60"/>
<circle cx="1044" cy="370" r="4.8" opacity="0.78"/>
<circle cx="975" cy="191" r="4.6" opacity="0.71"/>
<circle cx="1068" cy="169" r="3.9" opacity="0.48"/>
<circle cx="1010" cy="371" r="3.9" opacity="0.37"/>
<circle cx="1114" cy="373" r="5.7" opacity="0.37"/>
<circle cx="959" cy="203" r="6.2" opacity="0.41"/>
<circle cx="927" cy="214" r="5.8" opacity="0.45"/>
<circle cx="1135" cy="235" r="5.3" opacity="0.45"/>
<circle cx="967" cy="372" r="6.5" opacity="0.47"/>
<circle cx="981" cy="174" r="3.7" opacity="0.54"/>
<circle cx="1022" cy="300" r="4.2" opacity="0.43"/>
<circle cx="1031" cy="245" r="4.2" opacity="0.84"/>
<circle cx="1038" cy="164" r="6.3" opacity="0.83"/>
<circle cx="990" cy="400" r="3.4" opacity="0.81"/>
<circle cx="937" cy="372" r="5.4" opacity="0.83"/>
<circle cx="969" cy="320" r="6.3" opacity="0.41"/>
<circle cx="941" cy="296" r="3.5" opacity="0.38"/>
<circle cx="899" cy="245" r="5.3" opacity="0.58"/>
<circle cx="1043" cy="166" r="3.4" opacity="0.63"/>
<circle cx="934" cy="163" r="3.2" opacity="0.68"/>
<circle cx="1129" cy="282" r="3.0" opacity="0.45"/>
<circle cx="1061" cy="354" r="3.7" opacity="0.58"/>
<circle cx="904" cy="292" r="5.6" opacity="0.60"/>
<circle cx="1087" cy="217" r="5.3" opacity="0.59"/>
<circle cx="1042" cy="178" r="4.6" opacity="0.66"/>
<circle cx="953" cy="296" r="3.1" opacity="0.56"/>
<circle cx="1125" cy="319" r="4.8" opacity="0.79"/>
<circle cx="1064" cy="285" r="4.3" opacity="0.79"/>
<circle cx="1033" cy="279" r="4.3" opacity="0.43"/>
<circle cx="942" cy="308" r="4.9" opacity="0.74"/>
<circle cx="1005" cy="254" r="4.9" opacity="0.48"/>
<circle cx="1130" cy="316" r="4.1" opacity="0.60"/>
<circle cx="1100" cy="393" r="5.4" opacity="0.79"/>
<circle cx="1092" cy="250" r="4.5" opacity="0.58"/>
<circle cx="908" cy="305" r="4.9" opacity="0.74"/>
<circle cx="978" cy="400" r="5.6" opacity="0.64"/>
<circle cx="951" cy="389" r="5.4" opacity="0.67"/>
<circle cx="943" cy="208" r="3.7" opacity="0.81"/>
<circle cx="1003" cy="332" r="5.4" opacity="0.76"/>
<circle cx="966" cy="209" r="6.4" opacity="0.42"/>
<circle cx="1139" cy="257" r="3.1" opacity="0.50"/>
<circle cx="1082" cy="259" r="3.5" opacity="0.39"/>
<circle cx="908" cy="300" r="4.3" opacity="0.69"/>
<circle cx="926" cy="229" r="4.9" opacity="0.51"/>
<circle cx="1065" cy="224" r="5.6" opacity="0.68"/>
<circle cx="996" cy="333" r="4.2" opacity="0.81"/>
<circle cx="1076" cy="230" r="6.0" opacity="0.66"/>
<circle cx="1106" cy="334" r="6.2" opacity="0.62"/>
<circle cx="979" cy="340" r="6.2" opacity="0.61"/>
<circle cx="1070" cy="308" r="4.2" opacity="0.45"/>
<circle cx="1047" cy="201" r="4.6" opacity="0.74"/>
<circle cx="988" cy="266" r="6.4" opacity="0.65"/>
<circle cx="1027" cy="207" r="5.6" opacity="0.53"/>
<circle cx="1070" cy="394" r="5.9" opacity="0.46"/>
<circle cx="1122" cy="323" r="3.6" opacity="0.37"/>
<circle cx="956" cy="303" r="4.7" opacity="0.35"/>
<circle cx="1127" cy="176" r="5.9" opacity="0.60"/>
<circle cx="1090" cy="358" r="5.4" opacity="0.54"/>
<circle cx="1022" cy="210" r="3.9" opacity="0.36"/>
<circle cx="984" cy="381" r="5.5" opacity="0.38"/>
<circle cx="979" cy="267" r="4.8" opacity="0.61"/>
<circle cx="1099" cy="208" r="5.2" opacity="0.67"/>
<circle cx="900" cy="197" r="3.4" opacity="0.66"/>
<circle cx="1105" cy="376" r="5.9" opacity="0.62"/>
<circle cx="1046" cy="323" r="4.0" opacity="0.59"/>
<circle cx="928" cy="241" r="4.3" opacity="0.83"/>
<circle cx="947" cy="280" r="3.2" opacity="0.38"/>
<circle cx="1021" cy="305" r="4.8" opacity="0.84"/>
<circle cx="1011" cy="313" r="6.1" opacity="0.41"/>
<circle cx="1083" cy="192" r="6.1" opacity="0.73"/>
<circle cx="1086" cy="370" r="3.2" opacity="0.39"/>
<circle cx="997" cy="176" r="6.2" opacity="0.44"/>
<circle cx="952" cy="338" r="3.4" opacity="0.78"/>
<circle cx="981" cy="291" r="5.9" opacity="0.39"/>
<circle cx="958" cy="253" r="5.5" opacity="0.50"/>
<circle cx="998" cy="211" r="5.1" opacity="0.56"/>
<circle cx="1053" cy="161" r="5.0" opacity="0.82"/>
<circle cx="954" cy="218" r="5.7" opacity="0.42"/>
<circle cx="1020" cy="260" r="3.6" opacity="0.51"/>
<circle cx="1090" cy="315" r="3.9" opacity="0.65"/>
<circle cx="1138" cy="198" r="5.6" opacity="0.42"/>
<circle cx="959" cy="190" r="5.0" opacity="0.68"/>
<circle cx="1069" cy="305" r="5.1" opacity="0.45"/>
<circle cx="960" cy="193" r="6.4" opacity="0.40"/>
<circle cx="1102" cy="254" r="6.0" opacity="0.57"/>
<circle cx="1125" cy="341" r="5.7" opacity="0.37"/>
<circle cx="1060" cy="167" r="5.1" opacity="0.54"/>
<circle cx="931" cy="276" r="4.1" opacity="0.59"/>
<circle cx="1046" cy="188" r="4.6" opacity="0.56"/>
<circle cx="1117" cy="390" r="4.0" opacity="0.53"/>
<circle cx="1007" cy="238" r="6.3" opacity="0.78"/>
<circle cx="939" cy="364" r="5.9" opacity="0.78"/>
<circle cx="997" cy="164" r="5.4" opacity="0.44"/>
<circle cx="1071" cy="188" r="5.0" opacity="0.40"/>
<circle cx="1039" cy="217" r="3.2" opacity="0.77"/>
<circle cx="1079" cy="318" r="4.2" opacity="0.55"/>
<circle cx="1034" cy="215" r="5.4" opacity="0.40"/>
<circle cx="935" cy="234" r="4.8" opacity="0.65"/>
<circle cx="1068" cy="301" r="4.5" opacity="0.78"/>
<circle cx="1024" cy="279" r="3.8" opacity="0.72"/>
<circle cx="908" cy="357" r="5.3" opacity="0.85"/>
<circle cx="1102" cy="286" r="5.4" opacity="0.54"/>
<circle cx="968" cy="388" r="4.4" opacity="0.71"/>
<circle cx="897" cy="183" r="5.9" opacity="0.67"/>
<circle cx="1077" cy="309" r="3.6" opacity="0.60"/>
<circle cx="1021" cy="300" r="6.4" opacity="0.57"/>
<circle cx="1066" cy="321" r="3.4" opacity="0.83"/>
<circle cx="997" cy="395" r="6.1" opacity="0.50"/>
<circle cx="1041" cy="320" r="5.5" opacity="0.48"/>
<circle cx="942" cy="210" r="4.3" opacity="0.83"/>
<circle cx="998" cy="320" r="6.5" opacity="0.43"/>
<circle cx="992" cy="392" r="4.3" opacity="0.74"/>
<circle cx="1085" cy="400" r="3.3" opacity="0.53"/>
<circle cx="1109" cy="241" r="3.7" opacity="0.74"/>
<circle cx="946" cy="323" r="5.8" opacity="0.74"/>
<circle cx="1069" cy="230" r="5.0" opacity="0.65"/>
<circle cx="962" cy="350" r="6.1" opacity="0.81"/>
<circle cx="1021" cy="333" r="6.4" opacity="0.63"/>
<circle cx="998" cy="236" r="3.2" opacity="0.78"/>
<circle cx="1138" cy="294" r="5.8" opacity="0.80"/>
<circle cx="907" cy="252" r="4.9" opacity="0.66"/>
<circle cx="934" cy="272" r="4.2" opacity="0.38"/>
<circle cx="1073" cy="348" r="6.3" opacity="0.68"/>
<circle cx="1090" cy="322" r="3.8" opacity="0.51"/>
<circle cx="943" cy="286" r="5.8" opacity="0.63"/>
<circle cx="903" cy="179" r="5.3" opacity="0.66"/>
<circle cx="1039" cy="226" r="3.7" opacity="0.70"/>
<circle cx="956" cy="266" r="5.6" opacity="0.40"/>
<circle cx="1084" cy="216" r="6.0" opacity="0.74"/>
<circle cx="1074" cy="385" r="6.3" opacity="0.76"/>
<circle cx="940" cy="359" r="3.4" opacity="0.45"/>
<circle cx="1102" cy="253" r="5.7" opacity="0.47"/>
<circle cx="924" cy="171" r="6.1" opacity="0.78"/>
<circle cx="1128" cy="284" r="5.7" opacity="0.54"/>
<circle cx="932" cy="220" r="4.9" opacity="0.61"/>
<circle cx="910" cy="282" r="4.3" opacity="0.36"/>
<circle cx="908" cy="248" r="6.5" opacity="0.72"/>
<circle cx="971" cy="308" r="6.4" opacity="0.59"/>
<circle cx="909" cy="361" r="5.4" opacity="0.76"/>
<circle cx="1095" cy="397" r="5.7" opacity="0.47"/>
<circle cx="903" cy="217" r="4.5" opacity="0.49"/>
<circle cx="1011" cy="226" r="5.3" opacity="0.48"/>
<circle cx="1010" cy="184" r="5.1" opacity="0.82"/>
<circle cx="1093" cy="245" r="6.0" opacity="0.77"/>
<circle cx="1004" cy="378" r="3.4" opacity="0.41"/>
<circle cx="1104" cy="240" r="3.6" opacity="0.71"/>
<circle cx="974" cy="189" r="4.2" opacity="0.51"/>
<circle cx="1043" cy="197" r="6.3" opacity="0.63"/>
<circle cx="963" cy="270" r="6.2" opacity="0.37"/>
<circle cx="970" cy="212" r="5.1" opacity="0.83"/>
<circle cx="1023" cy="293" r="3.2" opacity="0.69"/>
<circle cx="922" cy="208" r="5.2" opacity="0.63"/>
<circle cx="929" cy="217" r="3.3" opacity="0.81"/>
<circle cx="1133" cy="268" r="5.6" opacity="0.81"/>
<circle cx="1124" cy="164" r="3.7" opacity="0.73"/>
<circle cx="1101" cy="234" r="3.2" opacity="0.51"/>
<circle cx="1030" cy="383" r="3.1" opacity="0.51"/>
<circle cx="938" cy="196" r="4.2" opacity="0.74"/>
<circle cx="977" cy="187" r="6.3" opacity="0.36"/>
<circle cx="963" cy="396" r="4.5" opacity="0.47"/>
<circle cx="1062" cy="246" r="5.1" opacity="0.49"/>
<circle cx="983" cy="341" r="5.5" opacity="0.67"/>
<circle cx="1070" cy="234" r="3.8" opacity="0.41"/>
<circle cx="969" cy="298" r="3.4" opacity="0.37"/>
<circle cx="988" cy="254" r="4.4" opacity="0.73"/>
<circle cx="944" cy="334" r="4.5" opacity="0.49"/>
<circle cx="1132" cy="259" r="4.7" opacity="0.71"/>
<circle cx="928" cy="313" r="3.1" opacity="0.52"/>
<circle cx="997" cy="259" r="3.3" opacity="0.80"/>
<circle cx="937" cy="329" r="3.3" opacity="0.76"/>
<circle cx="1047" cy="226" r="4.5" opacity="0.62"/>
<circle cx="897" cy="273" r="3.8" opacity="0.53"/>
<circle cx="1125" cy="174" r="4.2" opacity="0.40"/>
<circle cx="1094" cy="276" r="4.4" opacity="0.73"/>
<circle cx="1099" cy="389" r="6.1" opacity="0.41"/>
<circle cx="1015" cy="290" r="5.5" opacity="0.50"/>
<circle cx="933" cy="279" r="6.0" opacity="0.84"/>
<circle cx="1061" cy="165" r="5.4" opacity="0.57"/>
<circle cx="1092" cy="385" r="4.9" opacity="0.76"/>
<circle cx="1092" cy="403" r="6.4" opacity="0.53"/>
<circle cx="984" cy="376" r="6.3" opacity="0.51"/>
<circle cx="1126" cy="296" r="3.3" opacity="0.77"/>
<circle cx="1081" cy="342" r="4.9" opacity="0.49"/>
<circle cx="939" cy="249" r="3.9" opacity="0.55"/>
<circle cx="945" cy="332" r="6.0" opacity="0.63"/>
<circle cx="1015" cy="167" r="3.0" opacity="0.44"/>
<circle cx="1100" cy="369" r="4.5" opacity="0.76"/>
<circle cx="1089" cy="397" r="5.4" opacity="0.78"/>
<circle cx="985" cy="185" r="6.4" opacity="0.40"/>
<circle cx="896" cy="265" r="6.1" opacity="0.83"/>
<circle cx="1009" cy="219" r="3.7" opacity="0.75"/>
<circle cx="1000" cy="206" r="4.6" opacity="0.49"/>
<circle cx="1119" cy="394" r="6.4" opacity="0.68"/>
<circle cx="1072" cy="234" r="5.3" opacity="0.48"/>
<circle cx="934" cy="354" r="4.3" opacity="0.57"/>
<circle cx="962" cy="254" r="3.6" opacity="0.68"/>
<circle cx="952" cy="168" r="4.4" opacity="0.54"/>
</g>
</g>
<rect x="632.7" y="428.8" width="235.3" height="234.4" fill="#b5b8ca"/>
<g clip-path="url(#ce)">
<rect x="632.7" y="428.8" width="235.3" height="234.4" fill="#000" filter="url(#ge)"/>
<rect x="632.7" y="428.8" width="235.3" height="234.4" fill="#000" filter="url(#ge2)"/>
<rect x="632.7" y="428.8" width="235.3" height="234.4" fill="#000" filter="url(#ge3)"/>
<g fill="#d8d9e4" filter="url(#b4)">
<circle cx="635" cy="661" r="6.2" opacity="0.70"/>
<circle cx="860" cy="487" r="8.1" opacity="0.46"/>
<circle cx="728" cy="617" r="10.0" opacity="0.40"/>
<circle cx="761" cy="591" r="8.6" opacity="0.35"/>
<circle cx="724" cy="544" r="10.5" opacity="0.63"/>
<circle cx="793" cy="492" r="10.6" opacity="0.39"/>
<circle cx="711" cy="462" r="8.5" opacity="0.62"/>
<circle cx="800" cy="626" r="9.2" opacity="0.56"/>
<circle cx="689" cy="658" r="10.9" opacity="0.59"/>
<circle cx="872" cy="640" r="10.3" opacity="0.60"/>
<circle cx="827" cy="593" r="5.8" opacity="0.63"/>
<circle cx="714" cy="581" r="10.4" opacity="0.50"/>
<circle cx="694" cy="559" r="10.3" opacity="0.64"/>
<circle cx="871" cy="646" r="9.8" opacity="0.49"/>
<circle cx="673" cy="652" r="5.2" opacity="0.68"/>
<circle cx="785" cy="481" r="6.0" opacity="0.59"/>
<circle cx="645" cy="529" r="5.6" opacity="0.35"/>
<circle cx="689" cy="583" r="5.2" opacity="0.64"/>
<circle cx="782" cy="487" r="9.3" opacity="0.33"/>
<circle cx="690" cy="547" r="10.1" opacity="0.57"/>
<circle cx="637" cy="658" r="5.9" opacity="0.37"/>
<circle cx="769" cy="441" r="7.5" opacity="0.38"/>
<circle cx="738" cy="509" r="7.5" opacity="0.44"/>
<circle cx="745" cy="584" r="7.5" opacity="0.51"/>
<circle cx="700" cy="521" r="5.5" opacity="0.48"/>
<circle cx="751" cy="463" r="6.9" opacity="0.52"/>
<circle cx="747" cy="578" r="6.5" opacity="0.63"/>
<circle cx="664" cy="648" r="7.0" opacity="0.41"/>
<circle cx="710" cy="655" r="9.2" opacity="0.68"/>
<circle cx="871" cy="537" r="9.8" opacity="0.32"/>
<circle cx="827" cy="486" r="7.0" opacity="0.57"/>
<circle cx="752" cy="559" r="6.9" opacity="0.46"/>
<circle cx="853" cy="430" r="5.1" opacity="0.56"/>
<circle cx="648" cy="486" r="6.6" opacity="0.31"/>
<circle cx="723" cy="662" r="10.2" opacity="0.32"/>
<circle cx="870" cy="644" r="10.2" opacity="0.37"/>
<circle cx="706" cy="463" r="9.4" opacity="0.59"/>
<circle cx="696" cy="658" r="9.4" opacity="0.59"/>
<circle cx="732" cy="633" r="8.3" opacity="0.61"/>
<circle cx="852" cy="441" r="5.3" opacity="0.39"/>
<circle cx="854" cy="504" r="7.3" opacity="0.52"/>
<circle cx="762" cy="534" r="9.9" opacity="0.49"/>
<circle cx="815" cy="457" r="9.5" opacity="0.49"/>
<circle cx="752" cy="457" r="10.2" opacity="0.36"/>
<circle cx="815" cy="551" r="5.1" opacity="0.68"/>
<circle cx="811" cy="449" r="6.1" opacity="0.67"/>
<circle cx="739" cy="563" r="7.5" opacity="0.30"/>
<circle cx="646" cy="490" r="5.8" opacity="0.46"/>
<circle cx="724" cy="610" r="5.2" opacity="0.57"/>
<circle cx="689" cy="577" r="7.0" opacity="0.33"/>
<circle cx="804" cy="441" r="9.9" opacity="0.43"/>
<circle cx="656" cy="568" r="9.0" opacity="0.70"/>
<circle cx="681" cy="448" r="10.5" opacity="0.41"/>
<circle cx="781" cy="562" r="10.9" opacity="0.54"/>
<circle cx="827" cy="469" r="9.8" opacity="0.49"/>
<circle cx="815" cy="579" r="5.8" opacity="0.46"/>
<circle cx="778" cy="470" r="6.9" opacity="0.42"/>
<circle cx="740" cy="638" r="10.7" opacity="0.56"/>
<circle cx="793" cy="653" r="10.2" opacity="0.53"/>
<circle cx="637" cy="508" r="6.6" opacity="0.54"/>
<circle cx="725" cy="455" r="8.9" opacity="0.47"/>
<circle cx="745" cy="639" r="9.9" opacity="0.35"/>
<circle cx="752" cy="591" r="6.2" opacity="0.43"/>
<circle cx="822" cy="657" r="9.2" opacity="0.47"/>
<circle cx="793" cy="643" r="5.5" opacity="0.33"/>
<circle cx="776" cy="654" r="10.5" opacity="0.39"/>
<circle cx="714" cy="608" r="7.4" opacity="0.37"/>
<circle cx="746" cy="569" r="6.7" opacity="0.59"/>
<circle cx="769" cy="536" r="6.6" opacity="0.69"/>
<circle cx="642" cy="501" r="7.3" opacity="0.49"/>
<circle cx="691" cy="645" r="6.7" opacity="0.62"/>
<circle cx="765" cy="602" r="10.1" opacity="0.47"/>
<circle cx="637" cy="526" r="5.1" opacity="0.30"/>
<circle cx="646" cy="453" r="10.3" opacity="0.60"/>
<circle cx="689" cy="443" r="5.2" opacity="0.47"/>
<circle cx="738" cy="644" r="7.3" opacity="0.52"/>
<circle cx="774" cy="475" r="6.5" opacity="0.39"/>
<circle cx="714" cy="576" r="7.5" opacity="0.65"/>
<circle cx="778" cy="477" r="7.0" opacity="0.66"/>
<circle cx="632" cy="520" r="7.8" opacity="0.37"/>
</g>
<g fill="none" stroke="#3c3e58" stroke-width="0.9" opacity="0.45">
<path d="M651 507Q655 530 663 551"/><path d="M724 563Q700 572 684 592Q676 604 670 610"/><path d="M776 566L789 592"/><path d="M684 456Q694 470 700 478"/>
</g>
</g>
<rect x="901" y="430.9" width="233.0" height="232.5" fill="#abaab4"/>
<g clip-path="url(#cf)">
<rect x="901" y="430.9" width="233.0" height="232.5" fill="#000" filter="url(#gf)"/>
<rect x="901" y="430.9" width="233.0" height="232.5" fill="#000" filter="url(#gf2)"/>
<rect x="901" y="430.9" width="233.0" height="232.5" fill="#000" filter="url(#gf3)"/>
<g fill="#cdcdd6" filter="url(#b1)">
<circle cx="917" cy="524" r="2.5" opacity="0.34"/>
<circle cx="1041" cy="507" r="3.7" opacity="0.34"/>
<circle cx="1110" cy="588" r="3.9" opacity="0.51"/>
<circle cx="940" cy="568" r="4.7" opacity="0.37"/>
<circle cx="930" cy="549" r="2.9" opacity="0.46"/>
<circle cx="961" cy="437" r="3.5" opacity="0.63"/>
<circle cx="1029" cy="476" r="2.7" opacity="0.34"/>
<circle cx="1137" cy="611" r="4.3" opacity="0.52"/>
<circle cx="1103" cy="453" r="4.8" opacity="0.63"/>
<circle cx="968" cy="603" r="3.5" opacity="0.57"/>
<circle cx="957" cy="474" r="5.5" opacity="0.38"/>
<circle cx="954" cy="489" r="4.0" opacity="0.38"/>
<circle cx="906" cy="512" r="3.9" opacity="0.30"/>
<circle cx="1136" cy="453" r="4.0" opacity="0.69"/>
<circle cx="1089" cy="641" r="5.3" opacity="0.57"/>
<circle cx="1030" cy="564" r="3.3" opacity="0.68"/>
<circle cx="1010" cy="598" r="3.1" opacity="0.33"/>
<circle cx="1030" cy="664" r="3.8" opacity="0.40"/>
<circle cx="995" cy="664" r="3.2" opacity="0.46"/>
<circle cx="1065" cy="487" r="3.9" opacity="0.38"/>
<circle cx="1094" cy="449" r="2.9" opacity="0.46"/>
<circle cx="1081" cy="618" r="5.3" opacity="0.47"/>
<circle cx="923" cy="551" r="4.7" opacity="0.49"/>
<circle cx="1061" cy="540" r="4.1" opacity="0.67"/>
<circle cx="991" cy="553" r="3.9" opacity="0.69"/>
<circle cx="1118" cy="514" r="3.8" opacity="0.45"/>
<circle cx="922" cy="528" r="4.3" opacity="0.45"/>
<circle cx="1021" cy="462" r="5.2" opacity="0.58"/>
<circle cx="900" cy="500" r="4.6" opacity="0.65"/>
<circle cx="1038" cy="445" r="4.1" opacity="0.31"/>
<circle cx="930" cy="486" r="4.4" opacity="0.43"/>
<circle cx="926" cy="545" r="4.7" opacity="0.40"/>
<circle cx="1088" cy="427" r="4.0" opacity="0.31"/>
<circle cx="1069" cy="481" r="5.2" opacity="0.62"/>
<circle cx="992" cy="430" r="2.9" opacity="0.68"/>
<circle cx="1014" cy="633" r="5.2" opacity="0.40"/>
<circle cx="1061" cy="556" r="4.2" opacity="0.44"/>
<circle cx="999" cy="663" r="4.6" opacity="0.50"/>
<circle cx="995" cy="525" r="3.8" opacity="0.57"/>
<circle cx="1047" cy="609" r="4.9" opacity="0.36"/>
<circle cx="1078" cy="569" r="3.9" opacity="0.61"/>
<circle cx="1135" cy="569" r="3.3" opacity="0.34"/>
<circle cx="1040" cy="479" r="4.2" opacity="0.69"/>
<circle cx="1108" cy="463" r="3.1" opacity="0.54"/>
<circle cx="933" cy="464" r="3.2" opacity="0.49"/>
<circle cx="1019" cy="485" r="2.8" opacity="0.52"/>
<circle cx="938" cy="491" r="5.3" opacity="0.70"/>
<circle cx="899" cy="629" r="4.5" opacity="0.69"/>
<circle cx="1065" cy="502" r="4.1" opacity="0.52"/>
<circle cx="1069" cy="544" r="4.2" opacity="0.63"/>
<circle cx="1054" cy="565" r="5.1" opacity="0.47"/>
<circle cx="961" cy="460" r="4.2" opacity="0.42"/>
<circle cx="1089" cy="541" r="2.9" opacity="0.45"/>
<circle cx="1053" cy="625" r="4.6" opacity="0.34"/>
<circle cx="1077" cy="577" r="4.8" opacity="0.50"/>
<circle cx="1129" cy="560" r="4.0" opacity="0.68"/>
<circle cx="1035" cy="601" r="4.7" opacity="0.65"/>
<circle cx="1075" cy="489" r="3.4" opacity="0.39"/>
<circle cx="1052" cy="613" r="5.2" opacity="0.45"/>
<circle cx="1097" cy="582" r="2.8" opacity="0.58"/>
<circle cx="1137" cy="436" r="4.9" opacity="0.45"/>
<circle cx="1049" cy="444" r="4.9" opacity="0.56"/>
<circle cx="940" cy="535" r="5.1" opacity="0.54"/>
<circle cx="984" cy="477" r="5.4" opacity="0.31"/>
<circle cx="1134" cy="584" r="3.5" opacity="0.40"/>
<circle cx="1015" cy="610" r="3.2" opacity="0.37"/>
<circle cx="1126" cy="434" r="4.2" opacity="0.64"/>
<circle cx="979" cy="575" r="2.8" opacity="0.34"/>
<circle cx="1102" cy="573" r="3.9" opacity="0.42"/>
<circle cx="1094" cy="548" r="3.8" opacity="0.60"/>
<circle cx="957" cy="578" r="3.3" opacity="0.66"/>
<circle cx="1116" cy="452" r="3.9" opacity="0.54"/>
<circle cx="903" cy="477" r="2.8" opacity="0.36"/>
<circle cx="1078" cy="546" r="4.2" opacity="0.70"/>
<circle cx="974" cy="616" r="3.5" opacity="0.50"/>
<circle cx="944" cy="467" r="3.7" opacity="0.48"/>
<circle cx="1003" cy="628" r="3.7" opacity="0.33"/>
<circle cx="952" cy="542" r="3.7" opacity="0.70"/>
<circle cx="971" cy="431" r="4.3" opacity="0.62"/>
<circle cx="1070" cy="598" r="4.2" opacity="0.55"/>
<circle cx="904" cy="638" r="5.3" opacity="0.69"/>
<circle cx="899" cy="533" r="3.5" opacity="0.52"/>
<circle cx="1014" cy="558" r="5.2" opacity="0.35"/>
<circle cx="975" cy="461" r="3.3" opacity="0.48"/>
<circle cx="979" cy="459" r="4.7" opacity="0.52"/>
<circle cx="1133" cy="470" r="4.1" opacity="0.67"/>
<circle cx="1049" cy="561" r="5.4" opacity="0.59"/>
<circle cx="1116" cy="576" r="3.1" opacity="0.50"/>
<circle cx="1014" cy="599" r="4.7" opacity="0.55"/>
<circle cx="969" cy="449" r="3.4" opacity="0.55"/>
<circle cx="1010" cy="558" r="4.1" opacity="0.58"/>
<circle cx="1134" cy="574" r="5.3" opacity="0.40"/>
<circle cx="952" cy="442" r="5.3" opacity="0.43"/>
<circle cx="1072" cy="639" r="5.1" opacity="0.39"/>
<circle cx="1014" cy="596" r="2.9" opacity="0.63"/>
<circle cx="1080" cy="436" r="3.0" opacity="0.41"/>
<circle cx="1069" cy="456" r="3.8" opacity="0.60"/>
<circle cx="982" cy="643" r="3.2" opacity="0.57"/>
<circle cx="961" cy="512" r="4.8" opacity="0.31"/>
<circle cx="1047" cy="460" r="3.0" opacity="0.39"/>
<circle cx="1103" cy="519" r="5.2" opacity="0.52"/>
<circle cx="1077" cy="653" r="5.2" opacity="0.51"/>
<circle cx="937" cy="489" r="4.4" opacity="0.58"/>
<circle cx="1124" cy="640" r="3.2" opacity="0.57"/>
<circle cx="952" cy="626" r="3.6" opacity="0.46"/>
<circle cx="1106" cy="614" r="3.2" opacity="0.48"/>
<circle cx="1131" cy="597" r="2.6" opacity="0.69"/>
<circle cx="979" cy="448" r="5.0" opacity="0.31"/>
<circle cx="944" cy="525" r="5.3" opacity="0.43"/>
<circle cx="1122" cy="475" r="5.0" opacity="0.50"/>
<circle cx="1060" cy="469" r="4.1" opacity="0.68"/>
<circle cx="916" cy="455" r="3.4" opacity="0.52"/>
<circle cx="1039" cy="468" r="3.4" opacity="0.68"/>
<circle cx="946" cy="591" r="3.6" opacity="0.57"/>
<circle cx="974" cy="652" r="4.8" opacity="0.43"/>
<circle cx="1117" cy="588" r="5.1" opacity="0.59"/>
<circle cx="1098" cy="661" r="3.0" opacity="0.55"/>
<circle cx="1035" cy="661" r="5.1" opacity="0.66"/>
<circle cx="979" cy="527" r="4.0" opacity="0.63"/>
<circle cx="1050" cy="526" r="3.3" opacity="0.61"/>
<circle cx="1072" cy="568" r="3.7" opacity="0.47"/>
<circle cx="938" cy="494" r="4.8" opacity="0.67"/>
<circle cx="1089" cy="498" r="2.6" opacity="0.55"/>
<circle cx="1050" cy="651" r="2.7" opacity="0.65"/>
<circle cx="1083" cy="533" r="4.6" opacity="0.53"/>
<circle cx="1073" cy="474" r="4.6" opacity="0.66"/>
<circle cx="1036" cy="561" r="4.2" opacity="0.66"/>
<circle cx="1076" cy="539" r="4.4" opacity="0.65"/>
<circle cx="1098" cy="609" r="5.2" opacity="0.41"/>
<circle cx="907" cy="435" r="4.6" opacity="0.62"/>
<circle cx="1127" cy="443" r="3.6" opacity="0.68"/>
<circle cx="1066" cy="625" r="3.0" opacity="0.47"/>
<circle cx="1093" cy="534" r="4.0" opacity="0.66"/>
<circle cx="1072" cy="455" r="4.6" opacity="0.66"/>
<circle cx="966" cy="660" r="3.4" opacity="0.64"/>
<circle cx="948" cy="656" r="5.2" opacity="0.64"/>
<circle cx="1073" cy="469" r="3.1" opacity="0.33"/>
<circle cx="1017" cy="601" r="4.9" opacity="0.43"/>
<circle cx="1119" cy="609" r="4.2" opacity="0.59"/>
<circle cx="1020" cy="577" r="5.0" opacity="0.52"/>
<circle cx="1111" cy="607" r="5.2" opacity="0.41"/>
<circle cx="928" cy="612" r="3.5" opacity="0.31"/>
<circle cx="1131" cy="557" r="2.9" opacity="0.47"/>
<circle cx="1024" cy="511" r="3.6" opacity="0.43"/>
<circle cx="1086" cy="471" r="5.5" opacity="0.48"/>
<circle cx="931" cy="453" r="2.6" opacity="0.45"/>
<circle cx="966" cy="629" r="4.2" opacity="0.30"/>
<circle cx="911" cy="468" r="3.6" opacity="0.61"/>
<circle cx="954" cy="457" r="3.2" opacity="0.37"/>
<circle cx="1121" cy="592" r="2.7" opacity="0.66"/>
<circle cx="1059" cy="659" r="2.8" opacity="0.39"/>
<circle cx="960" cy="615" r="3.3" opacity="0.46"/>
<circle cx="977" cy="599" r="4.9" opacity="0.37"/>
<circle cx="1111" cy="575" r="5.2" opacity="0.42"/>
<circle cx="1049" cy="474" r="3.5" opacity="0.44"/>
<circle cx="1129" cy="661" r="5.1" opacity="0.31"/>
<circle cx="1137" cy="623" r="4.7" opacity="0.42"/>
<circle cx="1136" cy="552" r="4.8" opacity="0.50"/>
<circle cx="1038" cy="510" r="4.9" opacity="0.67"/>
<circle cx="1125" cy="596" r="3.8" opacity="0.39"/>
<circle cx="953" cy="619" r="3.4" opacity="0.56"/>
<circle cx="1026" cy="469" r="4.6" opacity="0.57"/>
<circle cx="1123" cy="629" r="5.0" opacity="0.70"/>
<circle cx="975" cy="529" r="4.7" opacity="0.55"/>
<circle cx="1039" cy="487" r="4.3" opacity="0.50"/>
<circle cx="1066" cy="538" r="3.9" opacity="0.56"/>
<circle cx="956" cy="580" r="4.4" opacity="0.58"/>
<circle cx="1056" cy="548" r="5.0" opacity="0.48"/>
<circle cx="975" cy="664" r="4.7" opacity="0.32"/>
<circle cx="945" cy="593" r="3.7" opacity="0.45"/>
<circle cx="921" cy="469" r="4.3" opacity="0.64"/>
<circle cx="975" cy="631" r="4.2" opacity="0.57"/>
<circle cx="1081" cy="459" r="5.3" opacity="0.40"/>
<circle cx="951" cy="534" r="2.6" opacity="0.70"/>
<circle cx="1074" cy="478" r="2.5" opacity="0.52"/>
<circle cx="1096" cy="648" r="4.0" opacity="0.58"/>
<circle cx="1056" cy="527" r="3.7" opacity="0.67"/>
<circle cx="981" cy="508" r="4.9" opacity="0.49"/>
<circle cx="954" cy="635" r="5.5" opacity="0.46"/>
<circle cx="917" cy="471" r="2.8" opacity="0.48"/>
<circle cx="970" cy="640" r="4.9" opacity="0.64"/>
<circle cx="1053" cy="480" r="3.7" opacity="0.57"/>
<circle cx="1075" cy="534" r="4.5" opacity="0.42"/>
<circle cx="931" cy="462" r="4.4" opacity="0.57"/>
<circle cx="946" cy="581" r="3.9" opacity="0.35"/>
<circle cx="1107" cy="441" r="4.7" opacity="0.39"/>
<circle cx="948" cy="493" r="4.1" opacity="0.33"/>
<circle cx="1118" cy="614" r="4.2" opacity="0.56"/>
<circle cx="949" cy="451" r="5.3" opacity="0.66"/>
<circle cx="1069" cy="520" r="3.7" opacity="0.37"/>
</g>
<g filter="url(#bs)">
<circle cx="1087" cy="507" r="1.1" fill="#2a4a5a" opacity="0.88"/>
<circle cx="969" cy="652" r="1.0" fill="#2a4a5a" opacity="0.75"/>
<circle cx="1018" cy="629" r="1.7" fill="#1d5a5c" opacity="0.70"/>
<circle cx="1086" cy="475" r="1.1" fill="#22606a" opacity="0.63"/>
<circle cx="921" cy="612" r="1.1" fill="#22606a" opacity="0.58"/>
<circle cx="920" cy="477" r="1.4" fill="#22606a" opacity="0.72"/>
<circle cx="924" cy="617" r="1.6" fill="#2a4a5a" opacity="0.84"/>
<circle cx="923" cy="538" r="1.7" fill="#1d5a5c" opacity="0.81"/>
<circle cx="1128" cy="494" r="1.2" fill="#1d5a5c" opacity="0.71"/>
<circle cx="1094" cy="610" r="1.6" fill="#22606a" opacity="0.88"/>
<circle cx="1025" cy="482" r="1.3" fill="#22606a" opacity="0.56"/>
<circle cx="1088" cy="434" r="0.9" fill="#1d5a5c" opacity="0.75"/>
<circle cx="1075" cy="608" r="1.0" fill="#22606a" opacity="0.89"/>
<circle cx="1112" cy="591" r="1.5" fill="#1d5a5c" opacity="0.83"/>
<circle cx="1054" cy="465" r="0.9" fill="#1d5a5c" opacity="0.69"/>
<circle cx="983" cy="620" r="1.4" fill="#22606a" opacity="0.52"/>
<circle cx="1013" cy="608" r="1.5" fill="#1d5a5c" opacity="0.60"/>
<circle cx="1056" cy="539" r="1.8" fill="#22606a" opacity="0.54"/>
<circle cx="1100" cy="487" r="1.6" fill="#2a4a5a" opacity="0.53"/>
<circle cx="939" cy="437" r="1.5" fill="#2a4a5a" opacity="0.81"/>
<circle cx="1126" cy="565" r="1.3" fill="#22606a" opacity="0.61"/>
<circle cx="1097" cy="455" r="1.2" fill="#22606a" opacity="0.61"/>
<circle cx="1007" cy="475" r="1.0" fill="#22606a" opacity="0.51"/>
<circle cx="934" cy="452" r="1.4" fill="#1d5a5c" opacity="0.77"/>
<circle cx="1083" cy="469" r="1.2" fill="#22606a" opacity="0.85"/>
<circle cx="1025" cy="621" r="1.1" fill="#22606a" opacity="0.83"/>
<circle cx="1001" cy="489" r="1.7" fill="#1d5a5c" opacity="0.63"/>
<circle cx="1114" cy="611" r="1.6" fill="#3a3f4a" opacity="0.90"/>
<circle cx="1012" cy="605" r="1.4" fill="#22606a" opacity="0.66"/>
<circle cx="1103" cy="519" r="1.7" fill="#3a3f4a" opacity="0.61"/>
<circle cx="925" cy="463" r="1.1" fill="#1d5a5c" opacity="0.83"/>
<circle cx="1046" cy="572" r="1.4" fill="#1d5a5c" opacity="0.84"/>
<circle cx="1125" cy="459" r="1.1" fill="#2a4a5a" opacity="0.56"/>
<circle cx="1127" cy="445" r="1.0" fill="#22606a" opacity="0.78"/>
<circle cx="919" cy="536" r="0.9" fill="#1d5a5c" opacity="0.80"/>
<circle cx="936" cy="525" r="1.3" fill="#1d5a5c" opacity="0.54"/>
<circle cx="989" cy="460" r="1.6" fill="#3a3f4a" opacity="0.87"/>
<circle cx="1049" cy="623" r="1.0" fill="#1d5a5c" opacity="0.72"/>
<circle cx="1132" cy="521" r="1.1" fill="#1d5a5c" opacity="0.69"/>
<circle cx="1027" cy="610" r="1.2" fill="#3a3f4a" opacity="0.59"/>
<circle cx="1014" cy="532" r="1.6" fill="#22606a" opacity="0.85"/>
<circle cx="1084" cy="524" r="1.1" fill="#1d5a5c" opacity="0.75"/>
<circle cx="1133" cy="502" r="1.2" fill="#3a3f4a" opacity="0.76"/>
<circle cx="946" cy="547" r="1.1" fill="#2a4a5a" opacity="0.82"/>
<circle cx="1120" cy="511" r="1.6" fill="#2a4a5a" opacity="0.71"/>
<ellipse cx="1005" cy="501" rx="2.5" ry="2.9" fill="#e8e8f0" opacity="0.6"/>
<ellipse cx="1013" cy="589" rx="2.6" ry="1.8" fill="#e8e8f0" opacity="0.6"/>
<ellipse cx="903" cy="500" rx="2.8" ry="2.3" fill="#e8e8f0" opacity="0.6"/>
<ellipse cx="1045" cy="592" rx="3.8" ry="2.7" fill="#e8e8f0" opacity="0.6"/>
<ellipse cx="1061" cy="618" rx="3.1" ry="2.2" fill="#e8e8f0" opacity="0.6"/>
<ellipse cx="1114" cy="639" rx="2.8" ry="2.8" fill="#e8e8f0" opacity="0.6"/>
<ellipse cx="1001" cy="606" rx="2.0" ry="2.4" fill="#e8e8f0" opacity="0.6"/>
<ellipse cx="1122" cy="533" rx="3.7" ry="2.5" fill="#e8e8f0" opacity="0.6"/>
</g>
</g>
<g filter="url(#bc)">
<ellipse cx="698.4" cy="176" rx="5.5" ry="7.5" fill="#2e0c04"/>
<ellipse cx="665.5" cy="290" rx="6" ry="6.2" fill="#3a1005"/>
<ellipse cx="677" cy="321" rx="5" ry="5.5" fill="#7a3212"/>
<ellipse cx="678.7" cy="374.2" rx="6.2" ry="7.4" fill="#200804"/>
<ellipse cx="780.6" cy="384.8" rx="6.5" ry="6.5" fill="#220804"/>
<ellipse cx="855.9" cy="316.2" rx="7" ry="6" fill="#2a0a04"/>
<ellipse cx="1009.5" cy="235.2" rx="5.8" ry="5.2" fill="#5a200a"/>
<ellipse cx="1079.8" cy="217.2" rx="6.5" ry="7" fill="#240804"/>
<ellipse cx="1086.4" cy="330.8" rx="5.5" ry="6.5" fill="#3a1006"/>
</g>
<g filter="url(#bc)" fill="#0e0e1a">
<path d="M679.5 441C684 444 686 449 685.5 454C684 458 675 458 673.5 455C672.5 450 675 444 679.5 441Z"/>
<path d="M645 490C648 486 655 486 657 490C658 495 654 502 651 509C648 502 644 495 645 490Z"/>
<ellipse cx="824.2" cy="452.4" rx="4.5" ry="3.2" fill="#2a2c40"/>
<ellipse cx="848.3" cy="491.9" rx="6.5" ry="4.6" transform="rotate(30 848.3 491.9)"/>
<ellipse cx="856.4" cy="518.3" rx="6.2" ry="4.4" transform="rotate(15 856.4 518.3)"/>
<ellipse cx="774.2" cy="519.6" rx="5.5" ry="4.6"/>
<ellipse cx="691.4" cy="542.1" rx="4.5" ry="4" fill="#3c3e5a"/>
<path d="M767 551C771 548 779 548 782 551C782 558 779 564 776 567C772 562 767 557 767 551Z"/>
<path d="M726 634C730 638 734 643 734 647C730 649 722 649 718 647C719 642 722 638 726 634Z"/>
<circle cx="668" cy="566.5" r="5" fill="#7c7e98" opacity="0.7"/>
</g>
<g filter="url(#bs)">
<ellipse cx="1040.2" cy="445" rx="8.3" ry="6.3" transform="rotate(10 1040.2 445)" fill="#6a5a30"/>
<ellipse cx="1040.2" cy="445" rx="7.5" ry="5.5" transform="rotate(10 1040.2 445)" fill="#080606"/>
<ellipse cx="1106" cy="511.8" rx="6.8" ry="6.3" transform="rotate(0 1106 511.8)" fill="#6a5a30"/>
<ellipse cx="1106" cy="511.8" rx="6" ry="5.5" transform="rotate(0 1106 511.8)" fill="#080606"/>
<ellipse cx="953.4" cy="605.2" rx="5.8" ry="7.8" transform="rotate(-20 953.4 605.2)" fill="#6a5a30"/>
<ellipse cx="953.4" cy="605.2" rx="5" ry="7" transform="rotate(-20 953.4 605.2)" fill="#080606"/>
<ellipse cx="1002.5" cy="653.6" rx="6.3" ry="6.8" transform="rotate(0 1002.5 653.6)" fill="#6a5a30"/>
<ellipse cx="1002.5" cy="653.6" rx="5.5" ry="6" transform="rotate(0 1002.5 653.6)" fill="#080606"/>
</g>
<path transform="translate(705.4 166.7) rotate(-45)" d="M0 0L7.6 -7.6L7.6 -3.3L25.6 -3.3L25.6 3.3L7.6 3.3L7.6 7.6Z" fill="#2a6f93" stroke="#0a1822" stroke-width="1.4" stroke-linejoin="miter"/>
<path transform="translate(671.6 277.2) rotate(-45)" d="M0 0L7.6 -7.6L7.6 -3.3L25.6 -3.3L25.6 3.3L7.6 3.3L7.6 7.6Z" fill="#2a6f93" stroke="#0a1822" stroke-width="1.4" stroke-linejoin="miter"/>
<path transform="translate(685.1 310.5) rotate(-45)" d="M0 0L7.6 -7.6L7.6 -3.3L25.6 -3.3L25.6 3.3L7.6 3.3L7.6 7.6Z" fill="#2a6f93" stroke="#0a1822" stroke-width="1.4" stroke-linejoin="miter"/>
<path transform="translate(689.3 362.1) rotate(-45)" d="M0 0L7.6 -7.6L7.6 -3.3L25.6 -3.3L25.6 3.3L7.6 3.3L7.6 7.6Z" fill="#2a6f93" stroke="#0a1822" stroke-width="1.4" stroke-linejoin="miter"/>
<path transform="translate(790.5 374.2) rotate(-45)" d="M0 0L7.6 -7.6L7.6 -3.3L25.6 -3.3L25.6 3.3L7.6 3.3L7.6 7.6Z" fill="#2a6f93" stroke="#0a1822" stroke-width="1.4" stroke-linejoin="miter"/>
<path transform="translate(862.6 304.5) rotate(-45)" d="M0 0L7.6 -7.6L7.6 -3.3L25.6 -3.3L25.6 3.3L7.6 3.3L7.6 7.6Z" fill="#2a6f93" stroke="#0a1822" stroke-width="1.4" stroke-linejoin="miter"/>
<path transform="translate(1017.7 224.4) rotate(-45)" d="M0 0L7.6 -7.6L7.6 -3.3L25.6 -3.3L25.6 3.3L7.6 3.3L7.6 7.6Z" fill="#2a6f93" stroke="#0a1822" stroke-width="1.4" stroke-linejoin="miter"/>
<path transform="translate(1090.6 210.7) rotate(-45)" d="M0 0L7.6 -7.6L7.6 -3.3L25.6 -3.3L25.6 3.3L7.6 3.3L7.6 7.6Z" fill="#2a6f93" stroke="#0a1822" stroke-width="1.4" stroke-linejoin="miter"/>
<path transform="translate(1094.5 317.7) rotate(-45)" d="M0 0L7.6 -7.6L7.6 -3.3L25.6 -3.3L25.6 3.3L7.6 3.3L7.6 7.6Z" fill="#2a6f93" stroke="#0a1822" stroke-width="1.4" stroke-linejoin="miter"/>
<path transform="translate(688.7 440.0) rotate(-45)" d="M0 0L7.6 -7.6L7.6 -3.3L25.6 -3.3L25.6 3.3L7.6 3.3L7.6 7.6Z" fill="#2a6f93" stroke="#0a1822" stroke-width="1.4" stroke-linejoin="miter"/>
<path transform="translate(660.7 484.4) rotate(-45)" d="M0 0L7.6 -7.6L7.6 -3.3L25.6 -3.3L25.6 3.3L7.6 3.3L7.6 7.6Z" fill="#2a6f93" stroke="#0a1822" stroke-width="1.4" stroke-linejoin="miter"/>
<path transform="translate(831.6 445.0) rotate(-45)" d="M0 0L7.6 -7.6L7.6 -3.3L25.6 -3.3L25.6 3.3L7.6 3.3L7.6 7.6Z" fill="#2a6f93" stroke="#0a1822" stroke-width="1.4" stroke-linejoin="miter"/>
<path transform="translate(855.0 483.4) rotate(-45)" d="M0 0L7.6 -7.6L7.6 -3.3L25.6 -3.3L25.6 3.3L7.6 3.3L7.6 7.6Z" fill="#2a6f93" stroke="#0a1822" stroke-width="1.4" stroke-linejoin="miter"/>
<path transform="translate(866.6 511.8) rotate(-45)" d="M0 0L7.6 -7.6L7.6 -3.3L25.6 -3.3L25.6 3.3L7.6 3.3L7.6 7.6Z" fill="#2a6f93" stroke="#0a1822" stroke-width="1.4" stroke-linejoin="miter"/>
<path transform="translate(778.9 511.8) rotate(-45)" d="M0 0L7.6 -7.6L7.6 -3.3L25.6 -3.3L25.6 3.3L7.6 3.3L7.6 7.6Z" fill="#2a6f93" stroke="#0a1822" stroke-width="1.4" stroke-linejoin="miter"/>
<path transform="translate(702.1 535.2) rotate(-45)" d="M0 0L7.6 -7.6L7.6 -3.3L25.6 -3.3L25.6 3.3L7.6 3.3L7.6 7.6Z" fill="#2a6f93" stroke="#0a1822" stroke-width="1.4" stroke-linejoin="miter"/>
<path transform="translate(787.5 548.5) rotate(-45)" d="M0 0L7.6 -7.6L7.6 -3.3L25.6 -3.3L25.6 3.3L7.6 3.3L7.6 7.6Z" fill="#2a6f93" stroke="#0a1822" stroke-width="1.4" stroke-linejoin="miter"/>
<path transform="translate(737.5 631.0) rotate(-45)" d="M0 0L7.6 -7.6L7.6 -3.3L25.6 -3.3L25.6 3.3L7.6 3.3L7.6 7.6Z" fill="#2a6f93" stroke="#0a1822" stroke-width="1.4" stroke-linejoin="miter"/>
<path transform="translate(1046.9 436.0) rotate(-45)" d="M0 0L7.6 -7.6L7.6 -3.3L25.6 -3.3L25.6 3.3L7.6 3.3L7.6 7.6Z" fill="#2a6f93" stroke="#0a1822" stroke-width="1.4" stroke-linejoin="miter"/>
<path transform="translate(1113.6 500.8) rotate(-45)" d="M0 0L7.6 -7.6L7.6 -3.3L25.6 -3.3L25.6 3.3L7.6 3.3L7.6 7.6Z" fill="#2a6f93" stroke="#0a1822" stroke-width="1.4" stroke-linejoin="miter"/>
<path transform="translate(958.4 596.9) rotate(-45)" d="M0 0L7.6 -7.6L7.6 -3.3L25.6 -3.3L25.6 3.3L7.6 3.3L7.6 7.6Z" fill="#2a6f93" stroke="#0a1822" stroke-width="1.4" stroke-linejoin="miter"/>
<path transform="translate(1008.5 641.0) rotate(-45)" d="M0 0L7.6 -7.6L7.6 -3.3L25.6 -3.3L25.6 3.3L7.6 3.3L7.6 7.6Z" fill="#2a6f93" stroke="#0a1822" stroke-width="1.4" stroke-linejoin="miter"/>
<g font-size="25" font-weight="bold">
<g stroke="#f58a35" stroke-width="2.4" stroke-opacity="0.8" paint-order="stroke" font-size="24.5"><text x="636.5" y="189.9">c)</text><text x="904.3" y="189.7">d)</text></g>
<g stroke="#e4e6ef" stroke-width="2.4" stroke-opacity="0.7" paint-order="stroke"><text x="639.5" y="654.8">e)</text><text x="907" y="656.8">f)</text></g>
</g>
<line x1="1014.1" y1="712.5" x2="1130.5" y2="712.5" stroke="#000" stroke-width="3.4"/>
<text x="1074.7" y="703.6" font-size="18.4" font-weight="bold" text-anchor="middle">100µm</text>
</svg>
</body></html>
